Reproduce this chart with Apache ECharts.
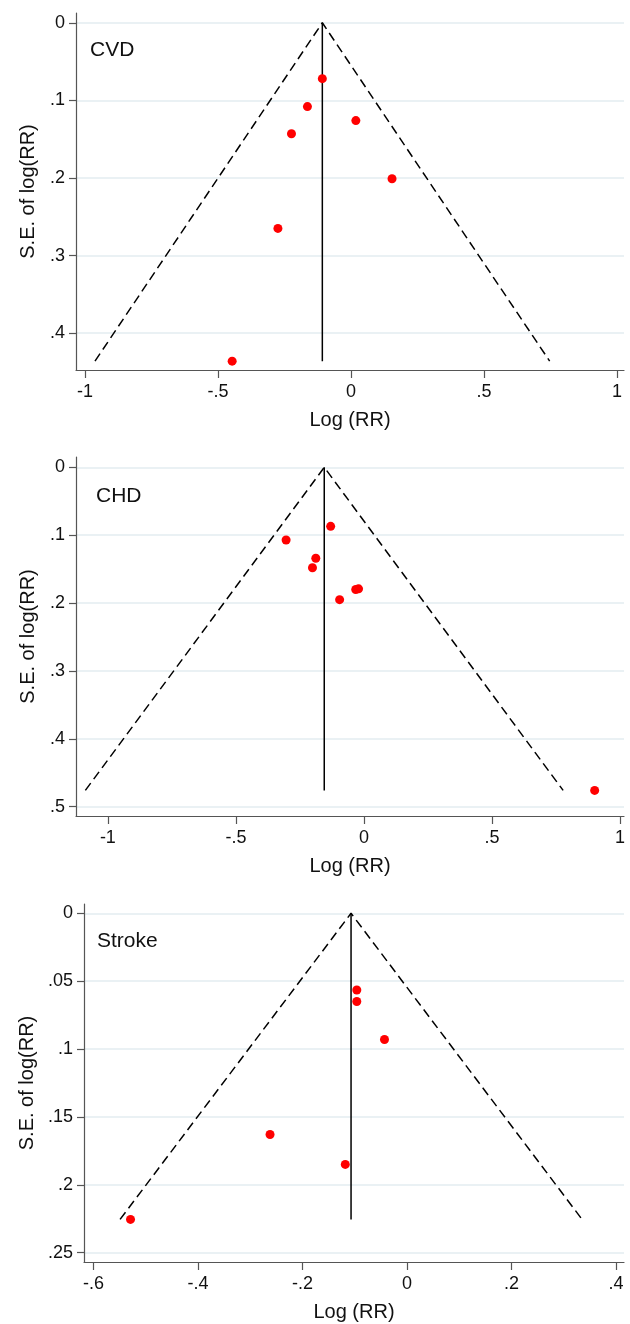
<!DOCTYPE html>
<html lang="en">
<head>
    <meta charset="UTF-8">
    <title>Funnel plots: CVD, CHD, Stroke</title>
    <script src="https://cdn.jsdelivr.net/npm/echarts@6.0.0/dist/echarts.min.js"></script>
    <style>
        html, body { margin: 0; padding: 0; background: #ffffff; }
    </style>
</head>
<body>
    <div id="main" style="width: 630px; height: 1324px;"></div>

    <script>
        // study estimates: log(RR) and standard error of log(RR)
        var cvdLogRR = [-0.108, -0.164, -0.224, 0.018, 0.154, -0.275, -0.447];
        var cvdSE = [0.072, 0.108, 0.143, 0.126, 0.201, 0.265, 0.436];
        var cvdPooled = -0.108;

        var chdLogRR = [-0.130, -0.304, -0.188, -0.201, -0.032, -0.021, -0.095, 0.901];
        var chdSE = [0.087, 0.107, 0.134, 0.148, 0.180, 0.179, 0.195, 0.476];
        var chdPooled = -0.155;

        var strokeLogRR = [-0.096, -0.096, -0.043, -0.262, -0.118, -0.529];
        var strokeSE = [0.0565, 0.065, 0.093, 0.163, 0.185, 0.2255];
        var strokePooled = -0.107;

        // tick labels
        var cvdXTicks = [-1, -0.5, 0, 0.5, 1];
        var cvdYTicks = [0, 0.1, 0.2, 0.3, 0.4];
        var chdXTicks = [-1, -0.5, 0, 0.5, 1];
        var chdYTicks = [0, 0.1, 0.2, 0.3, 0.4, 0.5];
        var strokeXTicks = [-0.6, -0.4, -0.2, 0, 0.2, 0.4];
        var strokeYTicks = [0, 0.05, 0.1, 0.15, 0.2, 0.25];

        var panelNames = ['CVD', 'CHD', 'Stroke'];

        var FONT = "'Liberation Sans', Arial, Helvetica, sans-serif";
        var AXIS_COLOR = '#555555';

        // layout of each panel (pixels) and axis ranges
        var panels = [
            { name: panelNames[0], x: cvdLogRR, se: cvdSE, pooled: cvdPooled, xTicks: cvdXTicks, yTicks: cvdYTicks,
              grid: { left: 76, top: 13, width: 548, height: 357 },
              xMin: -1.034, xMax: 1.026, yMin: -0.0126, yMax: 0.4474, labelPos: [90, 40], yGap: 38 },
            { name: panelNames[1], x: chdLogRR, se: chdSE, pooled: chdPooled, xTicks: chdXTicks, yTicks: chdYTicks,
              grid: { left: 76, top: 457, width: 548, height: 359 },
              xMin: -1.1245, xMax: 1.0156, yMin: -0.0152, yMax: 0.5137, labelPos: [96, 486], yGap: 38 },
            { name: panelNames[2], x: strokeLogRR, se: strokeSE, pooled: strokePooled, xTicks: strokeXTicks, yTicks: strokeYTicks,
              grid: { left: 84, top: 904, width: 540, height: 358 },
              xMin: -0.618, xMax: 0.4153, yMin: -0.00685, yMax: 0.2569, labelPos: [97, 931], yGap: 46 }
        ];

        // Stata style tick labels: ".5" instead of "0.5"
        function stataLabel(v) {
            if (Math.abs(v) < 1e-9) return '0';
            var s = String(+v.toFixed(3));
            return s.replace(/^(-?)0\./, '$1.');
        }

        var option = {
            backgroundColor: '#ffffff',
            animation: false,
            title: [],
            grid: [],
            xAxis: [],
            yAxis: [],
            series: []
        };

        panels.forEach(function (p, i) {
            var seMax = Math.max.apply(null, p.se);

            option.title.push({
                text: p.name,
                left: p.labelPos[0],
                top: p.labelPos[1],
                padding: 0,
                textStyle: { fontFamily: FONT, fontSize: 21, fontWeight: 'normal', color: '#111' }
            });

            option.grid.push(p.grid);

            option.xAxis.push({
                type: 'value',
                gridIndex: i,
                min: p.xMin,
                max: p.xMax,
                name: 'Log (RR)',
                nameLocation: 'middle',
                nameGap: 40,
                nameTextStyle: { fontFamily: FONT, fontSize: 20, color: '#111' },
                axisLine: { show: true, onZero: false, lineStyle: { color: AXIS_COLOR, width: 1.2 } },
                axisTick: { show: true, length: 8, customValues: p.xTicks, lineStyle: { color: AXIS_COLOR, width: 1.2 } },
                axisLabel: { customValues: p.xTicks, formatter: stataLabel, fontFamily: FONT, fontSize: 18, color: '#111', margin: 13 },
                splitLine: { show: false }
            });

            option.yAxis.push({
                type: 'value',
                gridIndex: i,
                inverse: true,
                min: p.yMin,
                max: p.yMax,
                name: 'S.E. of log(RR)',
                nameLocation: 'middle',
                nameGap: p.yGap,
                nameTextStyle: { fontFamily: FONT, fontSize: 20, color: '#111' },
                axisLine: { show: true, onZero: false, lineStyle: { color: AXIS_COLOR, width: 1.2 } },
                axisTick: { show: true, length: 7, customValues: p.yTicks, lineStyle: { color: AXIS_COLOR, width: 1.2 } },
                axisLabel: { customValues: p.yTicks, formatter: stataLabel, fontFamily: FONT, fontSize: 18, color: '#111', margin: 11 },
                splitLine: { show: true, lineStyle: { color: '#e3ecf1', width: 1.5 } }
            });

            // pseudo 95% confidence limits
            option.series.push({
                type: 'line',
                xAxisIndex: i,
                yAxisIndex: i,
                data: [
                    [p.pooled - 1.96 * seMax, seMax],
                    [p.pooled, 0],
                    [p.pooled + 1.96 * seMax, seMax]
                ],
                symbol: 'none',
                lineStyle: { color: '#000', width: 1.5, type: [9, 5] },
                silent: true
            });

            // pooled estimate
            option.series.push({
                type: 'line',
                xAxisIndex: i,
                yAxisIndex: i,
                data: [[p.pooled, 0], [p.pooled, seMax]],
                symbol: 'none',
                lineStyle: { color: '#000', width: 1.5 },
                silent: true
            });

            option.series.push({
                type: 'scatter',
                xAxisIndex: i,
                yAxisIndex: i,
                data: p.x.map(function (v, k) { return [v, p.se[k]]; }),
                symbolSize: 9,
                itemStyle: { color: '#ff0000', opacity: 1 },
                z: 5
            });
        });

        var myChart = echarts.init(document.getElementById('main'), null, { renderer: 'canvas' });
        myChart.setOption(option);
    </script>
</body>
</html>
